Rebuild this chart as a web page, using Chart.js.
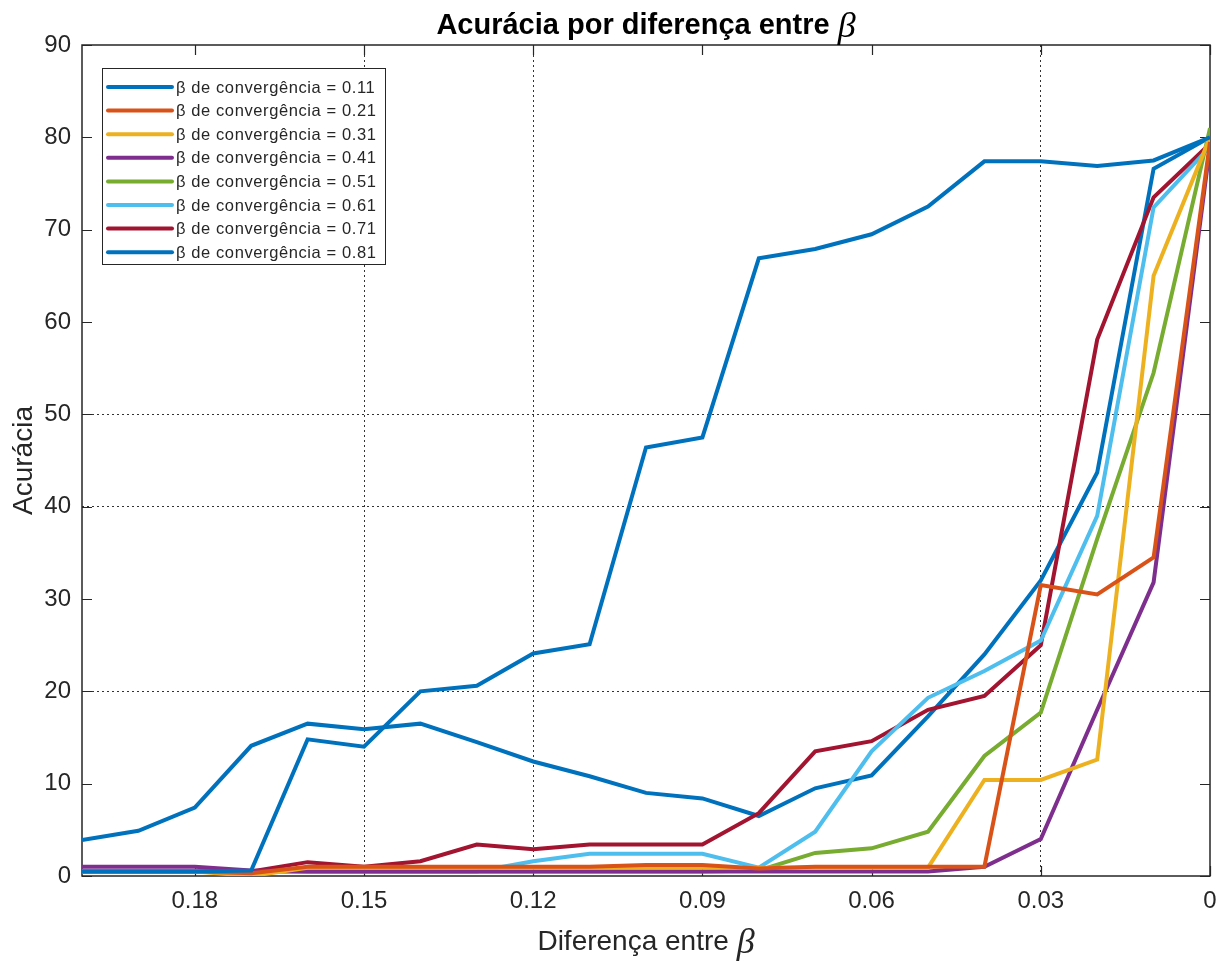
<!DOCTYPE html>
<html>
<head>
<meta charset="utf-8">
<script src="https://cdn.jsdelivr.net/npm/chart.js@4.4.1/dist/chart.umd.min.js"></script>
<style>
  html, body { margin: 0; padding: 0; background: #ffffff; }
  #wrap { width: 1222px; height: 964px; }
</style>
</head>
<body>
<div id="wrap"><canvas id="chart" width="1222" height="964"></canvas></div>
<script>
// Difference between beta values (x axis, plotted from 0.20 down to 0)
const diffBeta = [0.20, 0.19, 0.18, 0.17, 0.16, 0.15, 0.14, 0.13, 0.12, 0.11, 0.10,
                  0.09, 0.08, 0.07, 0.06, 0.05, 0.04, 0.03, 0.02, 0.01, 0.00];

// Convergence beta of each series
const convergenceBeta = ['0.11', '0.21', '0.31', '0.41', '0.51', '0.61', '0.71', '0.81'];

// Accuracy per series, one value per entry of diffBeta
const acc011 = [0.5, 0.5, 0.5, 0.6, 14.8, 14.0, 20.0, 20.6, 24.1, 25.1, 46.4, 47.5, 66.9, 67.9, 69.5, 72.5, 77.4, 77.4, 76.9, 77.5, 80.0];
const acc021 = [0.5, 0.5, 0.5, 0.3, 1.0, 1.0, 1.0, 1.0, 1.0, 1.0, 1.2, 1.2, 0.8, 1.0, 1.0, 1.0, 1.0, 31.5, 30.5, 34.5, 79.5];
const acc031 = [0.5, 0.5, 0.5, 0.0, 0.9, 0.9, 0.9, 0.9, 0.9, 0.9, 0.9, 0.9, 0.9, 0.9, 0.9, 0.9, 10.4, 10.4, 12.6, 65.0, 80.0];
const acc041 = [1.0, 1.0, 1.0, 0.6, 0.5, 0.5, 0.5, 0.5, 0.5, 0.5, 0.5, 0.5, 0.5, 0.5, 0.5, 0.5, 1.0, 4.0, 18.0, 31.8, 79.0];
const acc051 = [0.5, 0.5, 0.5, 0.5, 0.5, 0.5, 0.5, 0.5, 0.5, 0.5, 0.5, 0.5, 0.6, 2.5, 3.0, 4.8, 13.0, 17.7, 36.5, 54.5, 81.0];
const acc061 = [0.5, 0.5, 0.5, 0.5, 0.5, 0.5, 0.5, 0.5, 1.6, 2.4, 2.4, 2.4, 0.9, 4.8, 13.5, 19.3, 22.2, 25.5, 39.0, 72.4, 79.0];
const acc071 = [0.5, 0.5, 0.5, 0.5, 1.5, 1.0, 1.6, 3.4, 2.9, 3.4, 3.4, 3.4, 6.8, 13.5, 14.6, 18.0, 19.5, 25.0, 58.1, 73.5, 79.3];
const acc081 = [3.9, 4.9, 7.4, 14.1, 16.5, 15.9, 16.5, 14.5, 12.4, 10.8, 9.0, 8.4, 6.5, 9.5, 10.9, 17.3, 24.0, 32.0, 43.7, 76.6, 80.0];

// Axis ticks
const xTickValues = [0.18, 0.15, 0.12, 0.09, 0.06, 0.03, 0];
const xTickLabels = ['0.18', '0.15', '0.12', '0.09', '0.06', '0.03', '0'];
const yTickValues = [0, 10, 20, 30, 40, 50, 60, 70, 80, 90];
const yTickLabels = ['0', '10', '20', '30', '40', '50', '60', '70', '80', '90'];

// Dotted grid lines that are drawn
const xGridShown = [0.15, 0.12, 0.03];
const yGridShown = [20, 40, 50];

const seriesValues = [acc011, acc021, acc031, acc041, acc051, acc061, acc071, acc081];
const seriesColors = ['#0072BD', '#D95319', '#EDB120', '#7E2F8E', '#77AC30', '#4DBEEE', '#A2142F', '#0072BD'];

const FONT = "'Liberation Sans', Arial, Helvetica, sans-serif";
const BETA_FONT = "'Liberation Serif', 'DejaVu Serif', serif";
const INK = '#262626';

const datasets = seriesValues.map((vals, i) => ({
  label: 'β de convergência = ' + convergenceBeta[i],
  data: vals.map((v, k) => ({ x: diffBeta[k], y: v })),
  borderColor: seriesColors[i],
  backgroundColor: seriesColors[i],
  borderWidth: 4,
  pointRadius: 0,
  tension: 0,
  fill: false
}));

// Axes box with inward tick marks on all four sides
const frameAndTicks = {
  id: 'frameAndTicks',
  beforeDatasetsDraw(chart) {
    const { ctx, chartArea: a, scales } = chart;
    const len = 10;
    ctx.save();
    ctx.strokeStyle = INK;
    ctx.lineWidth = 1.5;
    ctx.strokeRect(a.left, a.top, a.right - a.left, a.bottom - a.top);
    ctx.lineWidth = 1.2;
    ctx.beginPath();
    xTickValues.forEach(v => {
      const px = Math.round(scales.x.getPixelForValue(v)) + 0.5;
      ctx.moveTo(px, a.bottom); ctx.lineTo(px, a.bottom - len);
      ctx.moveTo(px, a.top); ctx.lineTo(px, a.top + len);
    });
    yTickValues.forEach(v => {
      const py = Math.round(scales.y.getPixelForValue(v)) + 0.5;
      ctx.moveTo(a.left, py); ctx.lineTo(a.left + len, py);
      ctx.moveTo(a.right, py); ctx.lineTo(a.right - len, py);
    });
    ctx.stroke();
    ctx.restore();
  }
};

// Text made of runs in different fonts, centred on cx
function drawMixed(ctx, parts, cx, baseline) {
  let total = 0;
  parts.forEach(p => { ctx.font = p.font; p.w = ctx.measureText(p.text).width; total += p.w; });
  let x = cx - total / 2;
  parts.forEach(p => {
    ctx.font = p.font;
    ctx.fillText(p.text, x, baseline + (p.dy || 0));
    x += p.w;
  });
}

// Title, axis titles and the legend box
const annotations = {
  id: 'annotations',
  afterDraw(chart) {
    const { ctx, chartArea: a } = chart;
    const cx = (a.left + a.right) / 2;
    ctx.save();
    ctx.fillStyle = '#000000';
    ctx.textAlign = 'left';
    ctx.textBaseline = 'alphabetic';
    drawMixed(ctx, [
      { text: 'Acurácia por diferença entre ', font: 'bold 29px ' + FONT },
      { text: 'β', font: 'italic 36px ' + BETA_FONT, dy: 3 }
    ], cx, 34);

    ctx.fillStyle = INK;
    drawMixed(ctx, [
      { text: 'Diferença entre ', font: '28px ' + FONT },
      { text: 'β', font: 'italic 36px ' + BETA_FONT, dy: 3 }
    ], cx, 950);

    ctx.save();
    ctx.translate(32, (a.top + a.bottom) / 2);
    ctx.rotate(-Math.PI / 2);
    ctx.font = '28px ' + FONT;
    ctx.textAlign = 'center';
    ctx.textBaseline = 'alphabetic';
    ctx.fillText('Acurácia', 0, 0);
    ctx.restore();

    // legend
    const lx = 102, ly = 68, lw = 283, lh = 196;
    ctx.fillStyle = '#ffffff';
    ctx.fillRect(lx, ly, lw, lh);
    ctx.strokeStyle = INK;
    ctx.lineWidth = 1;
    ctx.strokeRect(lx + 0.5, ly + 0.5, lw, lh);
    ctx.font = '16.5px ' + FONT;
    ctx.textBaseline = 'middle';
    ctx.textAlign = 'left';
    if ('letterSpacing' in ctx) ctx.letterSpacing = '0.6px';
    chart.data.datasets.forEach((ds, i) => {
      const y = ly + 19 + i * 23.6;
      ctx.strokeStyle = ds.borderColor;
      ctx.lineWidth = 4;
      ctx.lineCap = 'round';
      ctx.beginPath();
      ctx.moveTo(lx + 6, y); ctx.lineTo(lx + 70, y);
      ctx.stroke();
      ctx.fillStyle = INK;
      ctx.fillText(ds.label, lx + 74, y + 1);
    });
    ctx.restore();
  }
};

new Chart(document.getElementById('chart'), {
  type: 'line',
  data: { datasets },
  plugins: [frameAndTicks, annotations],
  options: {
    responsive: false,
    animation: false,
    devicePixelRatio: 1,
    layout: { padding: { top: 45, right: 12, left: 0, bottom: 0 } },
    plugins: {
      legend: { display: false },
      title: { display: false },
      tooltip: { enabled: false }
    },
    scales: {
      x: {
        type: 'linear',
        reverse: true,
        min: 0,
        max: 0.2,
        afterBuildTicks(scale) { scale.ticks = xTickValues.map(v => ({ value: v })); },
        afterFit(scale) { scale.height = 88; scale.paddingLeft = 0; scale.paddingRight = 0; },
        ticks: {
          autoSkip: false,
          maxRotation: 0,
          padding: 11,
          color: INK,
          font: { family: FONT, size: 24 },
          callback: v => xTickLabels[xTickValues.indexOf(v)]
        },
        grid: {
          drawTicks: false,
          lineWidth: 1,
          color: c => (c.tick && xGridShown.includes(c.tick.value)) ? '#333333' : 'rgba(0,0,0,0)'
        },
        border: { display: false, dash: [2, 3] }
      },
      y: {
        min: 0,
        max: 90,
        afterBuildTicks(scale) { scale.ticks = yTickValues.map(v => ({ value: v })); },
        afterFit(scale) { scale.width = 82; scale.paddingTop = 0; scale.paddingBottom = 0; },
        ticks: {
          padding: 11,
          color: INK,
          font: { family: FONT, size: 24 },
          callback: v => yTickLabels[yTickValues.indexOf(v)]
        },
        grid: {
          drawTicks: false,
          lineWidth: 1,
          color: c => (c.tick && yGridShown.includes(c.tick.value)) ? '#333333' : 'rgba(0,0,0,0)'
        },
        border: { display: false, dash: [2, 3] }
      }
    }
  }
});
</script>
</body>
</html>
